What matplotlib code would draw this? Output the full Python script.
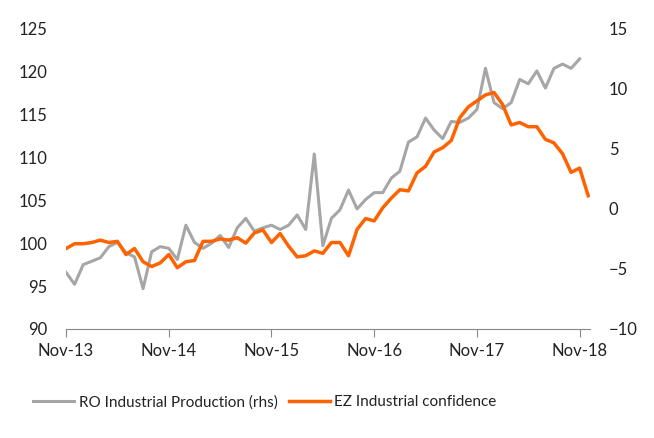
import numpy as np
import matplotlib
matplotlib.use("Agg")
import matplotlib.pyplot as plt

plt.rcParams['font.family'] = ['Lato', 'DejaVu Sans']

# monthly, Nov-13 .. Nov-18 (RO) and Nov-13 .. Dec-18 (EZ)
ro_ip = [96.6, 95.2, 97.5, 97.9, 98.3, 99.6, 100.1, 98.9, 98.4, 94.7,
         99.0, 99.6, 99.4, 98.1, 102.1, 100.1, 99.4, 100.0, 100.9, 99.5,
         101.8, 102.9, 101.4, 101.8, 102.1, 101.6, 102.1, 103.3, 101.6, 110.4,
         99.7, 102.9, 103.9, 106.2, 104.0, 105.1, 105.9, 105.9, 107.6, 108.4,
         111.8, 112.4, 114.6, 113.2, 112.2, 114.2, 114.1, 114.6, 115.6, 120.4,
         116.4, 115.7, 116.4, 119.1, 118.6, 120.1, 118.1, 120.4, 120.9, 120.4,
         121.5]
ez_conf = [-3.3, -2.9, -2.9, -2.8, -2.6, -2.8, -2.7, -3.8, -3.3, -4.4,
           -4.8, -4.5, -3.8, -4.9, -4.4, -4.3, -2.7, -2.7, -2.5, -2.6,
           -2.4, -2.85, -2.0, -1.75, -2.8, -2.05, -3.1, -4.0, -3.9, -3.5,
           -3.7, -2.8, -2.8, -3.9, -1.7, -0.8, -1.0, 0.1, 0.9, 1.6,
           1.5, 3.0, 3.55, 4.75, 5.1, 5.7, 7.6, 8.5, 9.0, 9.5,
           9.7, 8.7, 7.0, 7.2, 6.85, 6.85, 5.8, 5.5, 4.6, 3.05,
           3.4, 1.1]
tick_pos = [0, 12, 24, 36, 48, 60]
tick_labels = ['Nov-13', 'Nov-14', 'Nov-15', 'Nov-16', 'Nov-17', 'Nov-18']

grey = '#A6A6A6'
orange = '#FF6200'
txt = '#222222'

fig = plt.figure(figsize=(6.54, 4.38), dpi=100)
ax = fig.add_axes([0.101, 0.249, 0.801, 0.685])
ax2 = ax.twinx()

l1, = ax.plot(np.arange(len(ro_ip)), ro_ip, color=grey, lw=2.2,
              label='RO Industrial Production (rhs)')
l2, = ax2.plot(np.arange(len(ez_conf)), ez_conf, color=orange, lw=2.5,
               label='EZ Industrial confidence')

ax.set_xlim(0, 61.2)
ax.set_ylim(90, 125)
ax2.set_ylim(-10, 15)
ax.set_yticks(range(90, 126, 5))
ax2.set_yticks(range(-10, 16, 5))
ax.set_xticks(tick_pos)
ax.set_xticklabels(tick_labels)

for a in (ax, ax2):
    for s in ['top', 'left', 'right']:
        a.spines[s].set_visible(False)
ax2.spines['bottom'].set_visible(False)
ax.spines['bottom'].set_color('#888888')
ax.tick_params(axis='x', length=6, color='#888888', labelsize=12,
               labelcolor=txt, pad=4)
ax.tick_params(axis='y', length=0, labelsize=12, labelcolor=txt, pad=13.5)
ax2.tick_params(axis='y', length=0, labelsize=12, labelcolor=txt, pad=13.5)

fig.legend(handles=[l1, l2], loc='center', bbox_to_anchor=(0.405, 0.082),
           ncol=2, frameon=False, fontsize=11, handlelength=2.7,
           handletextpad=0.3, columnspacing=0.7, labelcolor=txt)

fig.savefig('out.png', dpi=100)
